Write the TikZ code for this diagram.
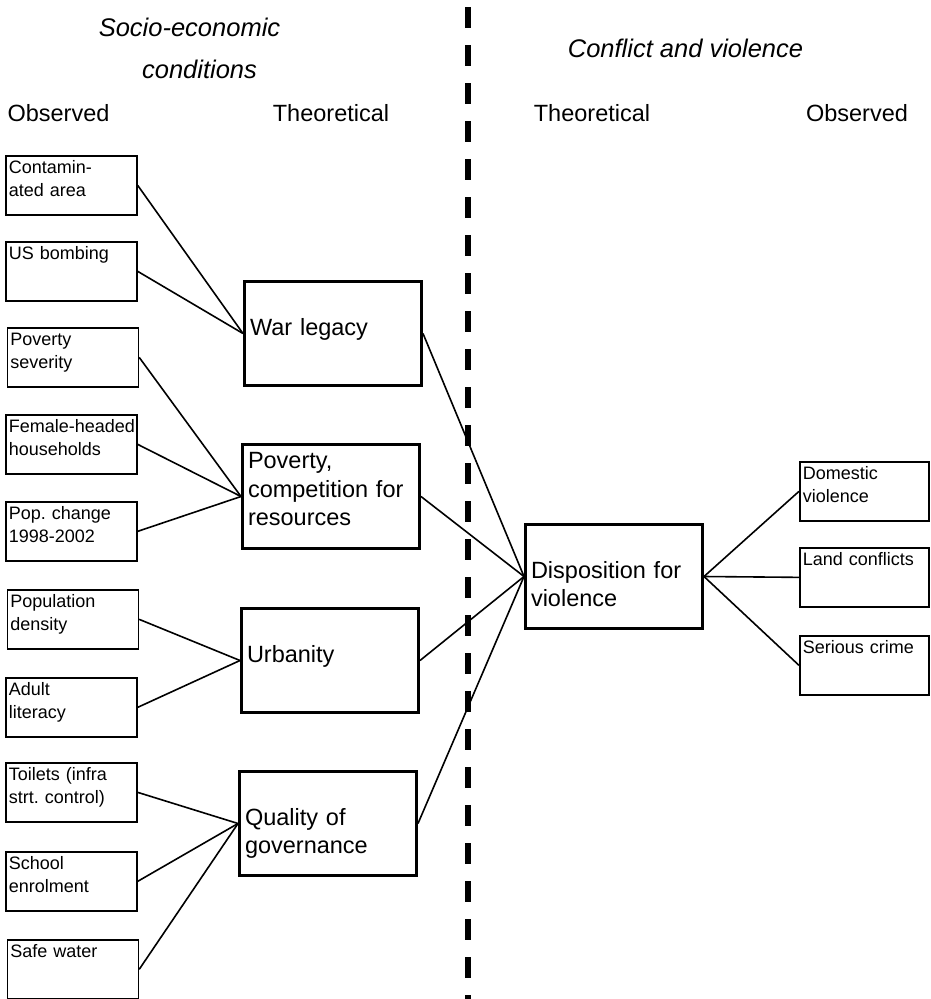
\documentclass[tikz,border=0pt]{standalone}
\usepackage{fontspec}
\setmainfont{Liberation Sans}
\usepackage{tikz}
\usetikzlibrary{calc}
\frenchspacing
\newcommand\obsbox[4]{
  \node[obs] (#1) at ( #2, #3 ) {#4};
}
\newcommand\theobox[4]{
  \node[theo] (#1) at ( #2, #3 ) {#4};
}

\begin{document}
\begin{tikzpicture}[x=1pt,y=-1pt,
    obs/.style={draw,line width=1.7pt,anchor=north west,inner xsep=3pt,inner ysep=0pt,
      text width=125pt,align=left,text height=18pt,text depth=41pt,
      font=\fontsize{18}{23}\selectfont},
    theo/.style={draw,line width=3pt,anchor=north west,inner xsep=5.5pt,inner ysep=0pt,
      text width=166pt,align=left,text height=53.5pt,text depth=50.5pt,
      font=\fontsize{23.5}{28.5}\selectfont},
    head/.style={anchor=base,font=\fontsize{23.5}{28}\selectfont},
    topic/.style={anchor=base,font=\fontsize{25.5}{30}\selectfont\itshape},
    link/.style={line width=1.6pt}]
      \useasboundingbox (0,0) rectangle (930,999);

      % headings
      \node[topic] (socio) at (189.5,36) {Socio-economic};
      \node[topic] (cond) at (199.5,78) {conditions};
      \node[topic] (conflict) at (685.5,57) {Conflict and violence};
      \node[head] (obsleft) at (58.5,121) {Observed};
      \node[head] (theoleft) at (331,121) {Theoretical};
      \node[head] (theoright) at (592,121) {Theoretical};
      \node[head] (obsright) at (857,121) {Observed};

      % divider
      \coordinate (divtop) at (468,7);
      \coordinate (divbot) at (468,999);
      \draw[line width=5.5pt,dash pattern=on 21pt off 17pt] (divtop) -- (divbot);

      \obsbox{contam}{5}{155}{Contamin-\\ated area}
      \obsbox{bomb}{5}{241}{US bombing}
      \obsbox{povsev}{6.5}{327}{Poverty\\severity}
      \obsbox{female}{5}{414}{\mbox{Female-headed}\\households}
      \obsbox{popch}{5}{501}{Pop. change\\1998-2002}
      \obsbox{popden}{6.5}{589}{Population\\density}
      \obsbox{adult}{5}{677}{Adult\\literacy}
      \obsbox{toilets}{5}{762}{Toilets (infra\\strt. control)}
      \obsbox{school}{5}{851}{School\\enrolment}
      \obsbox{water}{6.5}{939}{Safe water}

      \theobox{war}{243}{280}{War legacy}
      \node[theo,text height=24pt,text depth=80pt] (pov) at (241,443) {Poverty,\\competition for\\resources};
      \theobox{urb}{240}{607}{Urbanity}
      \theobox{gov}{238}{770}{Quality of\\governance}
      \theobox{disp}{524}{523}{Disposition for\\violence}

      \node[obs,text width=123pt] (domestic) at (799,461) {Domestic\\violence};
      \node[obs,text width=123pt] (land) at (799,547) {Land conflicts};
      \node[obs,text width=123pt] (crime) at (799,635) {Serious crime};

      \draw[link] (contam.east) -- (war.west);
      \draw[link] (bomb.east) -- (war.west);
      \draw[link] (povsev.east) -- (pov.west);
      \draw[link] (female.east) -- (pov.west);
      \draw[link] (popch.east) -- (pov.west);
      \draw[link] (popden.east) -- (urb.west);
      \draw[link] (adult.east) -- (urb.west);
      \draw[link] (toilets.east) -- (gov.west);
      \draw[link] (school.east) -- (gov.west);
      \draw[link] (water.east) -- (gov.west);

      \draw[link] (war.east) -- (disp.west);
      \draw[link] (pov.east) -- (disp.west);
      \draw[link] (urb.east) -- (disp.west);
      \draw[link] (gov.east) -- (disp.west);

      \draw[link] (disp.east) -- (domestic.west);
      \draw[link] (disp.east) -- (land.west);
      \draw[link] (disp.east) -- (crime.west);
    \end{tikzpicture}
\end{document}
